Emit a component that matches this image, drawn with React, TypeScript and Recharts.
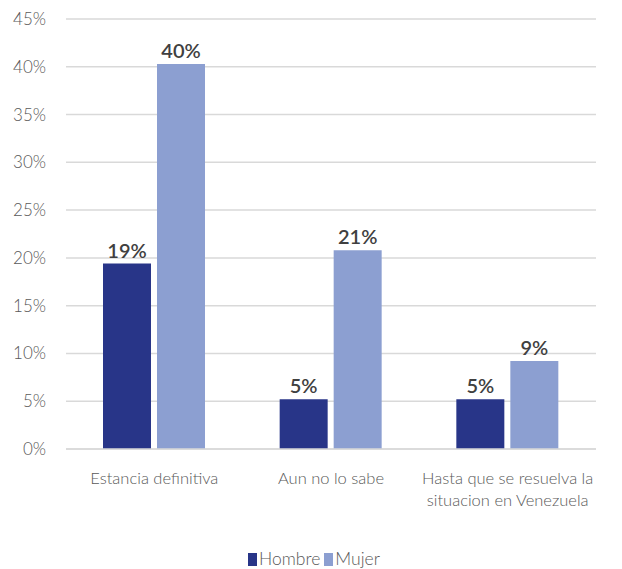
import React from "react";
import {
  BarChart,
  Bar,
  XAxis,
  YAxis,
  CartesianGrid,
  LabelList,
  Legend,
} from "recharts";

const categories = [
  "Estancia definitiva",
  "Aun no lo sabe",
  "Hasta que se resuelva la situacion en Venezuela",
];
const hombre = [19.4, 5.2, 5.2];
const mujer = [40.3, 20.8, 9.2];
const yTicks = [0, 5, 10, 15, 20, 25, 30, 35, 40, 45];

const data = categories.map((name, i) => ({
  name,
  Hombre: hombre[i],
  Mujer: mujer[i],
}));

const FONT = "Lato, 'Open Sans', sans-serif";
const DARK = "#283588";
const LIGHT = "#8c9fd1";

// split a label into lines of at most maxChars characters
function wrap(text: string, maxChars: number): string[] {
  const lines: string[] = [];
  let cur = "";
  for (const w of text.split(" ")) {
    const next = cur ? cur + " " + w : w;
    if (next.length > maxChars && cur) {
      lines.push(cur);
      cur = w;
    } else {
      cur = next;
    }
  }
  if (cur) lines.push(cur);
  return lines;
}

function CategoryTick(props: any) {
  const { x, y, payload } = props;
  const lines = wrap(payload.value, 24);
  return (
    <text
      x={x}
      y={y}
      textAnchor="middle"
      fill="#595959"
      fontSize={16.5}
      fontFamily={FONT}
      fontWeight={300}
    >
      {lines.map((l, i) => (
        <tspan key={i} x={x} dy={i === 0 ? 27 : 22}>
          {l}
        </tspan>
      ))}
    </text>
  );
}

function LegendContent() {
  const items = [
    { label: "Hombre", color: DARK },
    { label: "Mujer", color: LIGHT },
  ];
  return (
    <div
      style={{
        height: 45,
        display: "flex",
        alignItems: "flex-end",
        justifyContent: "center",
        paddingLeft: 36,
        fontFamily: FONT,
        fontWeight: 300,
        fontSize: 17.5,
        color: "#595959",
      }}
    >
      {items.map((it) => (
        <span
          key={it.label}
          style={{ display: "flex", alignItems: "center", marginRight: 4, lineHeight: "20px", paddingBottom: 0 }}
        >
          <span
            style={{
              display: "inline-block",
              width: 9,
              height: 13,
              background: it.color,
              marginRight: 2,
            }}
          />
          {it.label}
        </span>
      ))}
    </div>
  );
}

export default function App() {
  return (
    <div style={{ position: "absolute", left: 0, top: 0, width: 622, height: 569, background: "#fff" }}>
      <BarChart
        width={622}
        height={569}
        data={data}
        margin={{ top: 19, right: 26, left: 0, bottom: 0 }}
        barGap={6}
        barSize={48}
      >
        <CartesianGrid vertical={false} stroke="#d9d9d9" strokeWidth={1.5} />
        <XAxis
          dataKey="name"
          height={75}
          tickLine={false}
          axisLine={{ stroke: "#d9d9d9", strokeWidth: 1.5 }}
          tick={<CategoryTick />}
          interval={0}
        />
        <YAxis
          width={66}
          domain={[0, 45]}
          ticks={yTicks}
          tickFormatter={(v: number) => `${v}%`}
          tickLine={false}
          axisLine={false}
          tick={{ fill: "#595959", fontSize: 17, fontFamily: FONT, fontWeight: 300 }}
          dx={-12}
        />
        <Legend content={<LegendContent />} verticalAlign="bottom" height={45} />
        <Bar dataKey="Hombre" fill={DARK} isAnimationActive={false}>
          <LabelList
            dataKey="Hombre"
            position="top"
            offset={6}
            formatter={(v: number) => `${Math.round(v)}%`}
            style={{ fill: "#404040", fontSize: 20, fontWeight: 600, fontFamily: FONT }}
          />
        </Bar>
        <Bar dataKey="Mujer" fill={LIGHT} isAnimationActive={false}>
          <LabelList
            dataKey="Mujer"
            position="top"
            offset={6}
            formatter={(v: number) => `${Math.round(v)}%`}
            style={{ fill: "#404040", fontSize: 20, fontWeight: 600, fontFamily: FONT }}
          />
        </Bar>
      </BarChart>
    </div>
  );
}
